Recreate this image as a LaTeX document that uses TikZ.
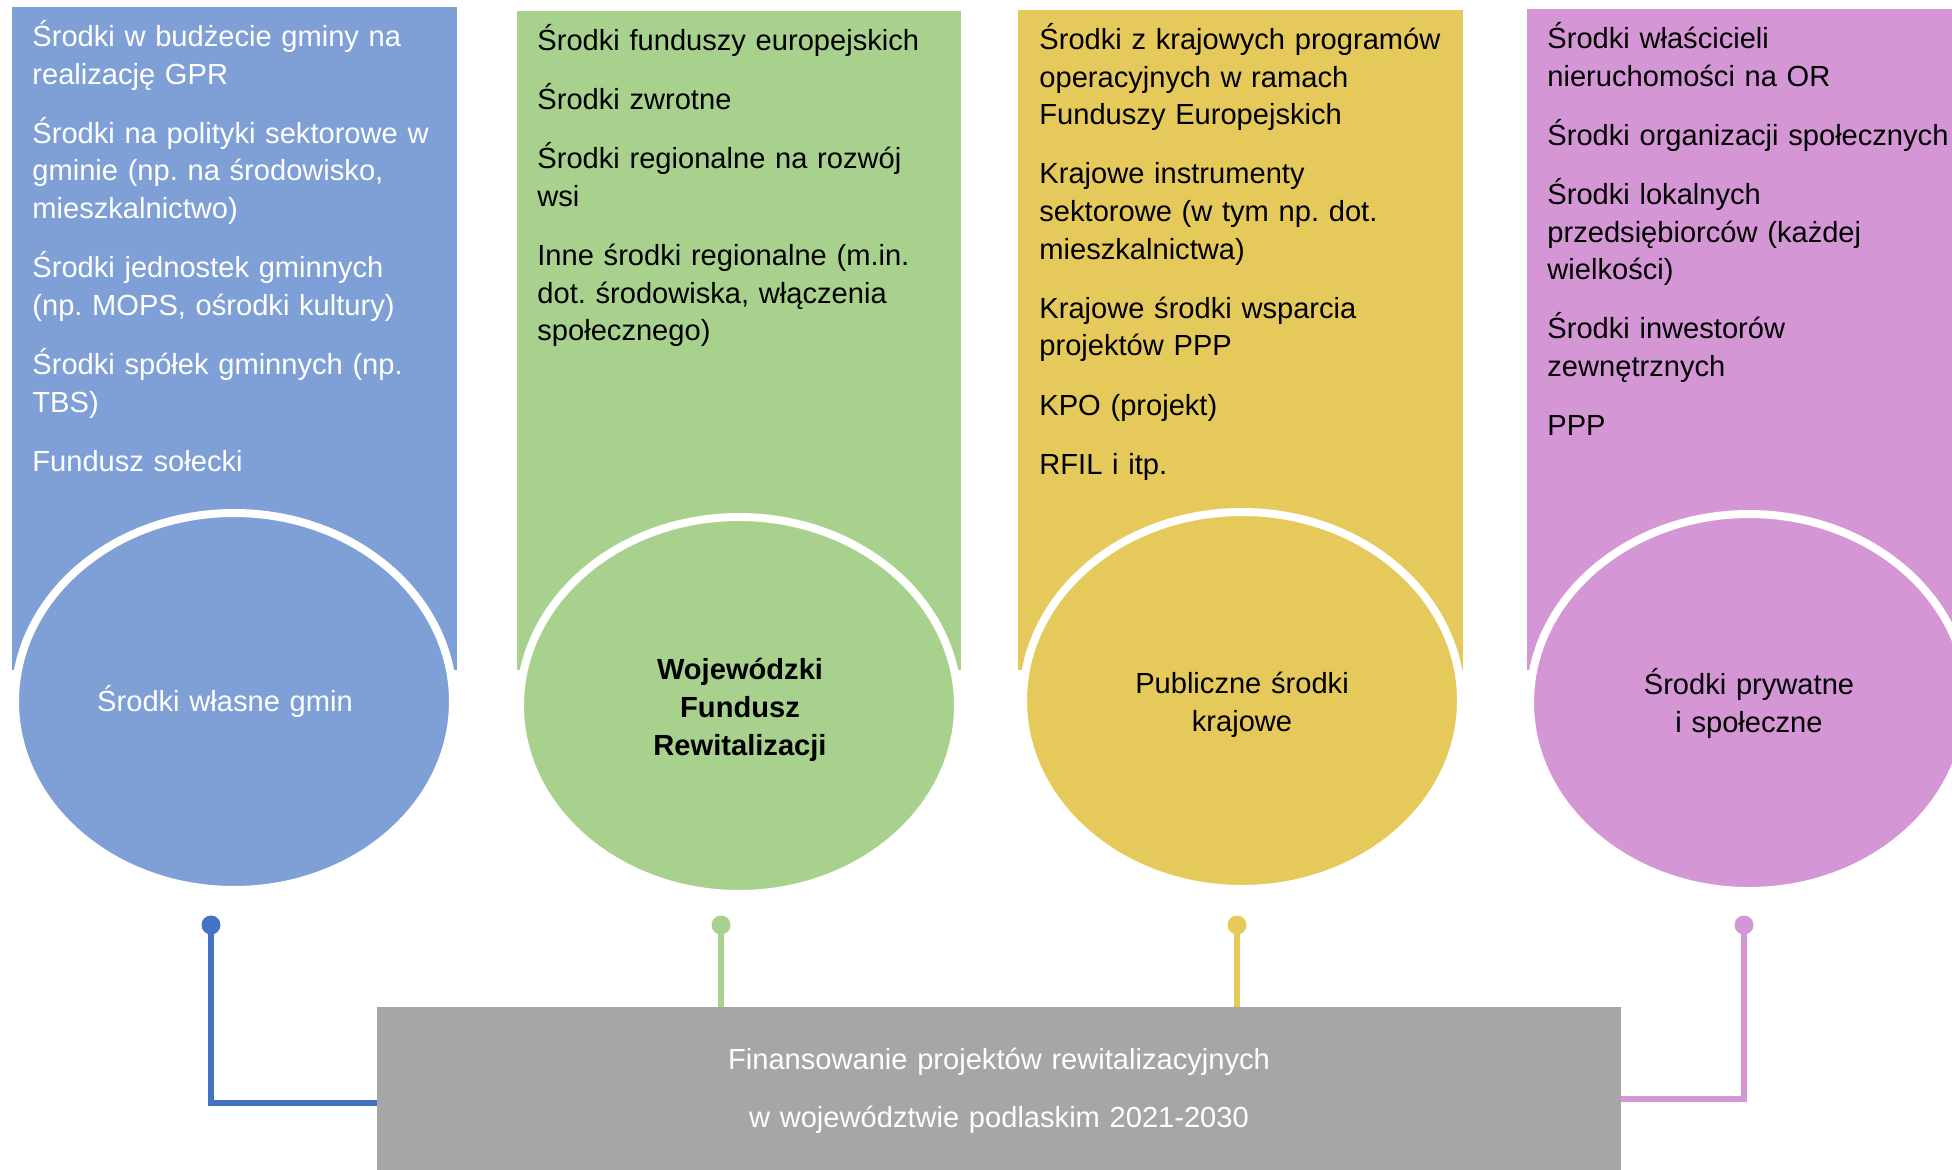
\documentclass[tikz,border=0pt]{standalone}
\usepackage{fontspec}
\setmainfont{Liberation Sans}
\usetikzlibrary{shapes.geometric}
\frenchspacing
\definecolor{cblue}{RGB}{127,159,215}
\definecolor{cbline}{RGB}{68,114,196}
\definecolor{cgreen}{RGB}{169,209,142}
\definecolor{cyellow}{RGB}{229,202,91}
\definecolor{cpurple}{RGB}{212,150,212}
\definecolor{cgray}{RGB}{166,166,166}
\begin{document}
\begin{tikzpicture}[x=0.5pt,y=-0.5pt,
  coltext/.style={anchor=base west, inner sep=0pt, text width=240pt, align=left,
    font=\fontsize{14.55}{18.8}\selectfont},
  circtext/.style={anchor=base, inner sep=0pt, text width=200pt, align=center,
    font=\fontsize{14.55}{19}\selectfont},
  bubble/.style={ellipse, draw=white, line width=4pt, minimum width=219pt,
    minimum height=188.5pt, inner sep=0pt},
  dot/.style={circle, inner sep=0pt, minimum size=9.5pt},
  link/.style={line width=2.75pt, line join=miter}
]
\useasboundingbox (0,0) rectangle (1952,1170);
% columns
\fill[cblue]   (12,7)    rectangle (457,670);
\fill[cgreen]  (517,11)  rectangle (961,670);
\fill[cyellow] (1018,10) rectangle (1463,670);
\fill[cpurple] (1527,9)  rectangle (1960,670);
% bubbles
\node[bubble, fill=cblue]   (eA) at (234,701.5)  {};
\node[bubble, fill=cgreen]  (eB) at (739,705.5)  {};
\node[bubble, fill=cyellow] (eC) at (1242,700.5) {};
\node[bubble, fill=cpurple] (eD) at (1749,702.5) {};
% column texts
\node[coltext, text=white] (lA) at (32,46.5) {Środki w budżecie gminy na\\ realizację GPR\\[10.8pt]
Środki na polityki sektorowe w\\ gminie (np. na środowisko,\\ mieszkalnictwo)\\[10.8pt]
Środki jednostek gminnych\\ (np. MOPS, ośrodki kultury)\\[10.8pt]
Środki spółek gminnych (np.\\ TBS)\\[10.8pt]
Fundusz sołecki};
\node[coltext] (lB) at (537,50.5) {Środki funduszy europejskich\\[10.8pt]
Środki zwrotne\\[10.8pt]
Środki regionalne na rozwój\\ wsi\\[10.8pt]
Inne środki regionalne (m.in.\\ dot. środowiska, włączenia\\ społecznego)};
\node[coltext] (lC) at (1039,49.5) {Środki z krajowych programów\\ operacyjnych w ramach\\ Funduszy Europejskich\\[10.8pt]
Krajowe instrumenty\\ sektorowe (w tym np. dot.\\ mieszkalnictwa)\\[10.8pt]
Krajowe środki wsparcia\\ projektów PPP\\[10.8pt]
KPO (projekt)\\[10.8pt]
RFIL i itp.};
\node[coltext] (lD) at (1547,48.5) {Środki właścicieli\\ nieruchomości na OR\\[10.8pt]
Środki organizacji społecznych\\[10.8pt]
Środki lokalnych\\ przedsiębiorców (każdej\\ wielkości)\\[10.8pt]
Środki inwestorów\\ zewnętrznych\\[10.8pt]
PPP};
% bubble texts
\node[circtext, text=white] (tA) at (225,711) {Środki własne gmin};
\node[circtext, font=\fontsize{14.55}{19.2}\selectfont\bfseries] (tB) at (740,679) {Wojewódzki\\ Fundusz\\ Rewitalizacji};
\node[circtext] (tC) at (1242,693) {Publiczne środki\\ krajowe};
\node[circtext] (tD) at (1749,694) {Środki prywatne\\ i społeczne};
% bottom box
\node[fill=cgray, inner sep=0pt, minimum width=622pt, minimum height=81.5pt] (fin) at (999,1088.5) {};
\node[anchor=base, inner sep=0pt, text width=600pt, align=center, text=white,
  font=\fontsize{14.55}{29}\selectfont] (finT) at (999,1069.5)
  {Finansowanie projektów rewitalizacyjnych\\ w województwie podlaskim 2021-2030};
% dots
\node[dot, fill=cbline]  (dA) at (211,925)  {};
\node[dot, fill=cgreen]  (dB) at (721,925)  {};
\node[dot, fill=cyellow] (dC) at (1237,925) {};
\node[dot, fill=cpurple] (dD) at (1744,925) {};
% connectors
\draw[link, cbline]  (dA.center) |- ([yshift=-7.25pt]fin.west);
\draw[link, cgreen]  (dB.center) -- (dB.center |- fin.north);
\draw[link, cyellow] (dC.center) -- (dC.center |- fin.north);
\draw[link, cpurple] (dD.center) |- ([yshift=-5.25pt]fin.east);
\end{tikzpicture}
\end{document}
